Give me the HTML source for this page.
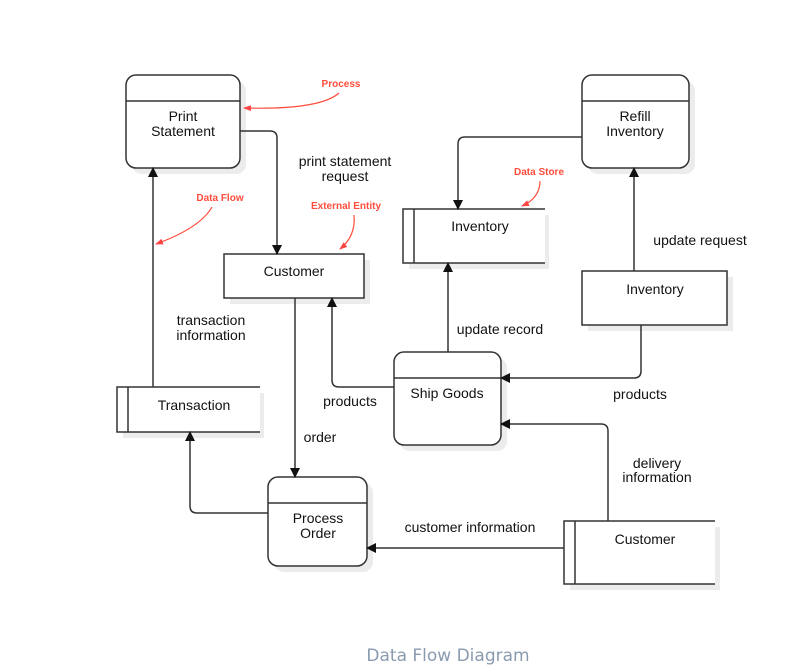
<!DOCTYPE html>
<html><head><meta charset="utf-8"><style>
html,body{margin:0;padding:0;background:#fff;}
svg{display:block;}
text{font-family:"Liberation Sans",sans-serif;}
</style></head><body>
<svg width="800" height="672" viewBox="0 0 800 672" xmlns="http://www.w3.org/2000/svg">
<defs>
<marker id="a" markerWidth="10" markerHeight="10" refX="9" refY="5" orient="auto" markerUnits="userSpaceOnUse"><path d="M0,0 L10,5 L0,10 z" fill="#111"/></marker>
<marker id="r" markerWidth="8" markerHeight="8" refX="7" refY="4" orient="auto" markerUnits="userSpaceOnUse"><path d="M0,1 L8,4 L0,7 z" fill="#f44"/></marker>
</defs>
<g fill="#ececec">
<rect x="132" y="81" width="114" height="93" rx="10"/>
<rect x="588" y="81" width="107" height="93" rx="10"/>
<rect x="230" y="260" width="140" height="44"/>
<rect x="409" y="215" width="140" height="54"/>
<rect x="588" y="277" width="145" height="54"/>
<rect x="400" y="358" width="107" height="93" rx="10"/>
<rect x="123" y="393" width="141" height="45"/>
<rect x="274" y="483" width="99" height="89" rx="10"/>
<rect x="570" y="527" width="150" height="63"/>
</g>
<g fill="#fff" stroke="#333" stroke-width="1.5">
<rect x="126" y="75" width="114" height="93" rx="10"/>
<rect x="582" y="75" width="107" height="93" rx="10"/>
<rect x="224" y="254" width="140" height="44"/>
<rect x="582" y="271" width="145" height="54"/>
<rect x="394" y="352" width="107" height="93" rx="10"/>
<rect x="268" y="477" width="99" height="89" rx="10"/>
</g>
<g fill="#fff" stroke="none">
<rect x="403" y="209" width="142" height="54"/>
<rect x="117" y="387" width="143" height="45"/>
<rect x="564" y="521" width="151" height="63"/>
</g>
<g fill="none" stroke="#333" stroke-width="1.5">
<path d="M126,101 H240 M582,101 H689 M394,378 H501 M268,503 H367"/>
<path d="M545,209 H403 V263 H545 M414,209 V263"/>
<path d="M260,387 H117 V432 H260 M128,387 V432"/>
<path d="M715,521 H564 V584 H715 M575,521 V584"/>
</g>
<g fill="none" stroke="#333" stroke-width="1.5" marker-end="url(#a)">
<path d="M240,131 H270 Q277,131 277,138 V254"/>
<path d="M153,387 V168"/>
<path d="M295,298 V477"/>
<path d="M394,387 H339 Q332,387 332,380 V298"/>
<path d="M268,513 H197 Q190,513 190,506 V432"/>
<path d="M448,352 V263"/>
<path d="M582,137 H465 Q458,137 458,144 V209"/>
<path d="M634,271 V168"/>
<path d="M641,325 V371 Q641,378 634,378 H501"/>
<path d="M608,521 V431 Q608,424 601,424 H501"/>
<path d="M564,548 H367"/>
</g>
<g font-size="14" fill="#111" text-anchor="middle">
<text x="183" y="121">Print</text><text x="183" y="136">Statement</text>
<text x="635" y="121">Refill</text><text x="635" y="136">Inventory</text>
<text x="294" y="276">Customer</text>
<text x="480" y="231">Inventory</text>
<text x="655" y="294">Inventory</text>
<text x="447" y="398">Ship Goods</text>
<text x="194" y="410">Transaction</text>
<text x="318" y="523">Process</text><text x="318" y="538">Order</text>
<text x="645" y="544">Customer</text>
<text x="345" y="166">print statement</text><text x="345" y="181">request</text>
<text x="211" y="325">transaction</text><text x="211" y="340">information</text>
<text x="500" y="334">update record</text>
<text x="700" y="245">update request</text>
<text x="350" y="406">products</text>
<text x="640" y="399">products</text>
<text x="320" y="442">order</text>
<text x="657" y="468">delivery</text><text x="657" y="482">information</text>
<text x="470" y="532">customer information</text>
</g>
<g font-size="10" font-weight="bold" fill="#ff4d3d" text-anchor="middle">
<text x="341" y="87">Process</text>
<text x="220" y="201">Data Flow</text>
<text x="346" y="209">External Entity</text>
<text x="539" y="175">Data Store</text>
</g>
<g fill="none" stroke="#ff4d3d" stroke-width="1.2" marker-end="url(#r)">
<path d="M339,93 Q320,110 244,108"/>
<path d="M212,207 Q200,228 156,244"/>
<path d="M354,215 Q356,236 340,249"/>
<path d="M540,181 Q540,198 522,206"/>
</g>
<text x="448" y="661" font-size="17" fill="#8a9bb0" text-anchor="middle" style="font-family:'DejaVu Sans','Liberation Sans',sans-serif">Data Flow Diagram</text>
</svg>
</body></html>
